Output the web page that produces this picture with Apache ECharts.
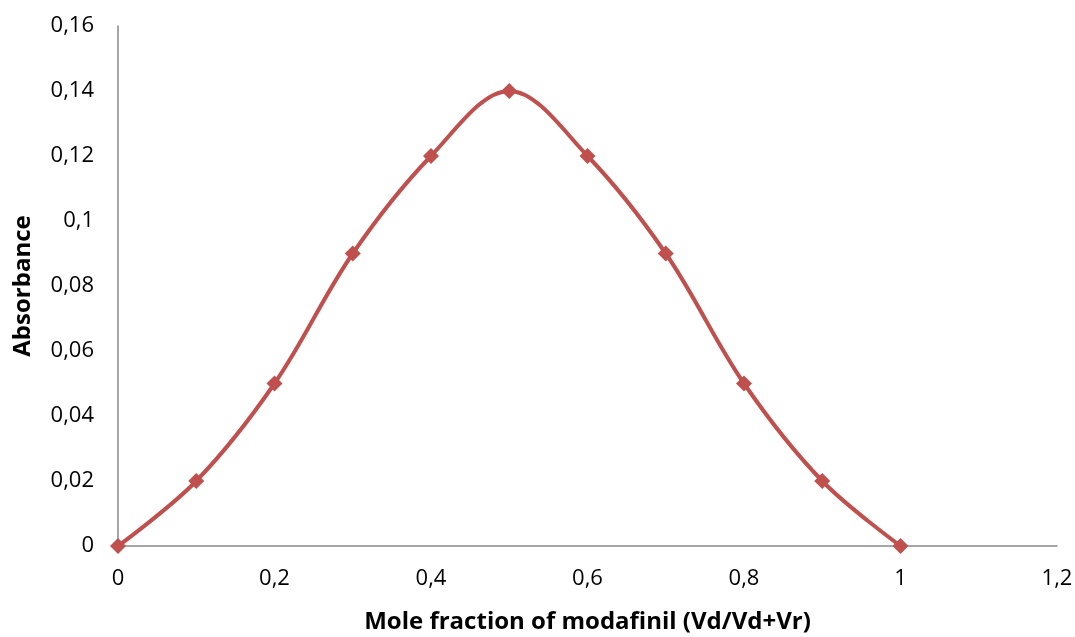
<!DOCTYPE html>
<html><head><meta charset="utf-8">
<script src="https://cdn.jsdelivr.net/npm/echarts@6/dist/echarts.min.js"></script>
<style>html,body{margin:0;padding:0;background:#fff}#c{width:1075px;height:637px}</style>
</head><body><div id="c"></div>
<script>
const xValues = [0, 0.1, 0.2, 0.3, 0.4, 0.5, 0.6, 0.7, 0.8, 0.9, 1];
const absorbance = [0, 0.02, 0.05, 0.09, 0.12, 0.14, 0.12, 0.09, 0.05, 0.02, 0];
const xTitle = 'Mole fraction of modafinil (Vd/Vd+Vr)';
const yTitle = 'Absorbance';

const fmt = v => String(+(+v).toFixed(3)).replace('.', ',');
const font = '"Open Sans", sans-serif';
const chart = echarts.init(document.getElementById('c'));
chart.setOption({
  animation: false,
  grid: {left: 118, right: 18, top: 26, bottom: 91, containLabel: false, outerBoundsMode: 'none'},
  xAxis: {
    type: 'value', min: 0, max: 1.2, interval: 0.2,
    name: xTitle, nameLocation: 'middle', nameGap: 64,
    nameTextStyle: {fontFamily: font, fontSize: 24, fontWeight: 'bold', color: '#000'},
    axisLine: {lineStyle: {color: '#888', width: 1.5}},
    axisTick: {show: false},
    splitLine: {show: false},
    axisLabel: {formatter: fmt, fontFamily: font, fontSize: 22, color: '#000', margin: 22}
  },
  yAxis: {
    type: 'value', min: 0, max: 0.16, interval: 0.02,
    name: yTitle, nameLocation: 'middle', nameGap: 83, nameRotate: 90,
    nameTextStyle: {fontFamily: font, fontSize: 24, fontWeight: 'bold', color: '#000'},
    axisLine: {show: true, lineStyle: {color: '#888', width: 1.5}},
    axisTick: {show: false},
    splitLine: {show: false},
    axisLabel: {formatter: fmt, fontFamily: font, fontSize: 22, color: '#000', margin: 24}
  },
  series: [{
    type: 'line',
    data: xValues.map((x, i) => [x, absorbance[i]]),
    smooth: 0.35,
    symbol: 'diamond', symbolSize: 16,
    lineStyle: {color: '#C0504D', width: 4},
    itemStyle: {color: '#C0504D'}
  }]
});
</script></body></html>
